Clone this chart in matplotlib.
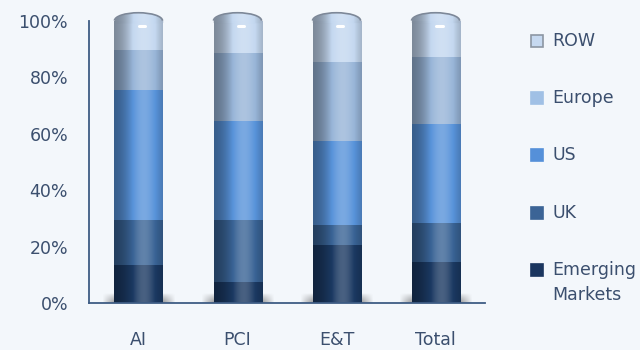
import numpy as np
import matplotlib.pyplot as plt
from matplotlib.patches import Rectangle, Arc
from matplotlib.colors import to_rgb

# data (percent share, stacked bottom -> top)
categories = ['AI', 'PCI', 'E&T', 'Total']
series_names = ['Emerging\nMarkets', 'UK', 'US', 'Europe', 'ROW']
emerging = [13.5, 7.5, 20.5, 14.5]
uk = [16, 22, 7, 14]
us = [46, 35, 30, 35]
europe = [14, 24, 28, 23.5]
row = [10.5, 11.5, 14.5, 13]
yticks = [0, 20, 40, 60, 80, 100]

series = [emerging, uk, us, europe, row]
colors = ['#1B3962', '#396395', '#5893DA', '#98B5D8', '#C4D8F0']
legend_colors = ['#1B365F', '#3B6496', '#5590D9', '#A0C0E5', '#C6D9F0']

bg = '#F3F7FB'
text_color = '#3B4F6E'
plt.rcParams['font.family'] = ['DejaVu Sans']

fig = plt.figure(figsize=(6.4, 3.5), dpi=100, facecolor=bg)
ax = fig.add_axes([0.139, 0.134, 0.619, 0.807])
ax.set_facecolor(bg)

width = 0.485
xs = np.arange(len(categories))


def cylinder_img(col, n=80):
    # horizontal shading: dark left rim, highlight right of centre
    t = np.linspace(0, 1, n)
    prof = 0.62 + 0.52 * np.exp(-((t - 0.6) / 0.33) ** 2) + 0.1 * t
    rgb = np.array(to_rgb(col))
    img = np.empty((1, n, 3))
    for k, p in enumerate(prof):
        if p <= 1:
            img[0, k] = rgb * p
        else:
            img[0, k] = rgb + (1 - rgb) * (p - 1)
    return np.clip(img, 0, 1)


# floor shadows
for x in xs:
    n = 60
    t = np.linspace(-1, 1, n)
    v = np.linspace(0, 1, 20)[:, None]
    a = np.clip(1.8 - 1.8 * np.abs(t)[None, :] ** 2, 0, 1) * (1 - v) ** 0.8 * 0.65
    sh = np.zeros((20, n, 4))
    sh[..., :3] = 0.4
    sh[..., 3] = a
    ax.imshow(sh, extent=(x - 0.37, x + 0.37, 0, 3.2), origin='lower',
              aspect='auto', interpolation='bilinear', zorder=1)

# stacked cylinders
bottoms = np.zeros(len(categories))
for vals, col in zip(series, colors):
    img = cylinder_img(col)
    for i, x in enumerate(xs):
        ax.imshow(img, extent=(x - width / 2, x + width / 2, bottoms[i], bottoms[i] + vals[i]),
                  aspect='auto', interpolation='bilinear', zorder=2)
    bottoms += np.array(vals)

# rounded top caps, built from thin shaded strips so they can sit above the axes
cap_h = 2.8
nstrip = 48
cap_shades = cylinder_img(colors[-1], nstrip)[0]
for i, x in enumerate(xs):
    top = bottoms[i]
    edges = np.linspace(x - width / 2, x + width / 2, nstrip + 1)
    for k in range(nstrip):
        xx = np.linspace(edges[k], edges[k + 1], 5)
        yy = top + cap_h * np.sqrt(np.clip(1 - ((xx - x) / (width / 2)) ** 2, 0, 1))
        ax.fill_between(xx, top - 0.6, yy, facecolor=cap_shades[k], edgecolor=cap_shades[k],
                        lw=0.3, clip_on=False, zorder=3)
    ax.add_patch(Arc((x, top), width, 2 * cap_h, theta1=0, theta2=180,
                     color='#7D8898', lw=1.2, zorder=4, clip_on=False))
    ax.plot([x + 0.005, x + 0.07], [top - 1.8, top - 1.8], color='white',
            lw=2.2, solid_capstyle='round', zorder=5, clip_on=False)

ax.set_xlim(-0.5, 3.5)
ax.set_ylim(0, 100)
ax.set_xticks(xs)
ax.set_xticklabels(categories)
ax.set_yticks(yticks)
ax.set_yticklabels([f'{v}%' for v in yticks])
ax.tick_params(axis='y', length=0, pad=15, labelsize=12.5, labelcolor=text_color)
ax.tick_params(axis='x', length=0, pad=20, labelsize=12.5, labelcolor=text_color)
for s in ['top', 'right']:
    ax.spines[s].set_visible(False)
for s in ['left', 'bottom']:
    ax.spines[s].set_color('#3E5C84')
    ax.spines[s].set_linewidth(1.3)
    ax.spines[s].set_zorder(6)

# legend, top to bottom: ROW ... Emerging Markets
leg_y = [270, 213, 155, 98, 40.5]
for name, col, yc in zip(series_names, legend_colors, leg_y):
    edge = '#8C96A3' if name == 'ROW' else col
    fig.add_artist(Rectangle((531 / 640, 1 - (yc + 6) / 350), 12 / 640, 12 / 350,
                             transform=fig.transFigure, facecolor=col, edgecolor=edge, lw=1.2))
    if '\n' in name:
        fig.text(552 / 640, 1 - (yc - 9) / 350, name, ha='left', va='top', fontsize=12.5,
                 color=text_color, linespacing=1.5)
    else:
        fig.text(552 / 640, 1 - yc / 350, name, ha='left', va='center', fontsize=12.5, color=text_color)

fig.savefig('out.png', dpi=100, facecolor=bg)
